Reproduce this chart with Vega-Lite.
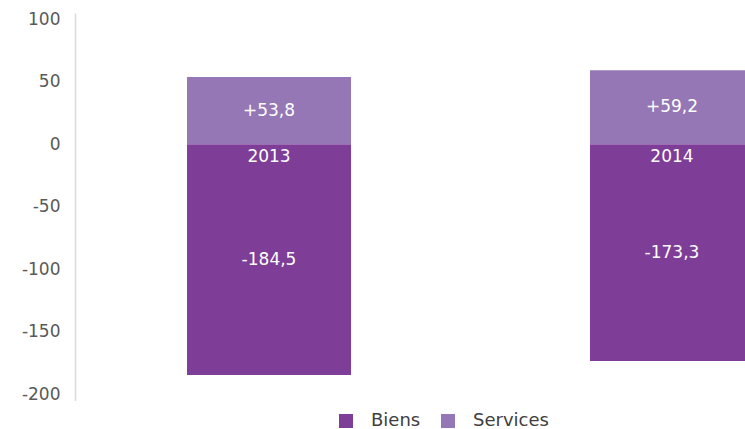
{
  "$schema": "https://vega.github.io/schema/vega-lite/v6.json",
  "width": 791,
  "height": 387.5,
  "autosize": {"type": "none"},
  "padding": {"left": 75, "top": 13, "right": 0, "bottom": 29},
  "background": "white",
  "config": {"view": {"stroke": null}, "font": "DejaVu Sans"},
  "data": {
    "values": [
      {"year": "2013", "type": "Biens", "value": -184.5, "label": "-184,5"},
      {"year": "2013", "type": "Services", "value": 53.8, "label": "+53,8"},
      {"year": "2014", "type": "Biens", "value": -173.3, "label": "-173,3"},
      {"year": "2014", "type": "Services", "value": 59.2, "label": "+59,2"}
    ]
  },
  "encoding": {
    "x": {
      "field": "year",
      "type": "nominal",
      "scale": {"paddingInner": 0.593, "paddingOuter": 0.278},
      "axis": null
    }
  },
  "layer": [
    {
      "mark": {"type": "bar"},
      "encoding": {
        "y": {
          "field": "value",
          "type": "quantitative",
          "stack": "zero",
          "scale": {"domain": [-205, 105], "nice": false, "zero": false},
          "axis": {
            "values": [-200, -150, -100, -50, 0, 50, 100],
            "labelExpr": "replace(datum.label, '−', '-')",
            "title": null,
            "grid": false,
            "ticks": false,
            "labelPadding": 15,
            "labelFontSize": 17,
            "labelColor": "#595959",
            "labelFont": "DejaVu Sans",
            "domainColor": "#D9D9D9",
            "domainWidth": 1.5
          }
        },
        "color": {
          "field": "type",
          "type": "nominal",
          "scale": {"domain": ["Biens", "Services"], "range": ["#7E3D97", "#9477B4"]},
          "legend": {
            "title": null,
            "orient": "none",
            "direction": "horizontal",
            "legendX": 262,
            "legendY": 399,
            "symbolType": "square",
            "symbolSize": 196,
            "symbolStrokeWidth": 0,
            "labelFontSize": 18,
            "labelFont": "DejaVu Sans",
            "labelColor": "#404040",
            "labelOffset": 16,
            "columnPadding": 18
          }
        },
        "order": {"field": "type", "sort": "ascending"}
      }
    },
    {
      "transform": [{"calculate": "datum.value / 2", "as": "mid"}],
      "mark": {"type": "text", "color": "white", "fontSize": 17, "font": "DejaVu Sans", "baseline": "middle"},
      "encoding": {
        "y": {"field": "mid", "type": "quantitative"},
        "text": {"field": "label"}
      }
    },
    {
      "transform": [{"filter": "datum.type === 'Biens'"}],
      "mark": {"type": "text", "color": "white", "fontSize": 17, "font": "DejaVu Sans", "baseline": "top", "dy": 5},
      "encoding": {
        "y": {"datum": 0, "type": "quantitative"},
        "text": {"field": "year"}
      }
    }
  ]
}
